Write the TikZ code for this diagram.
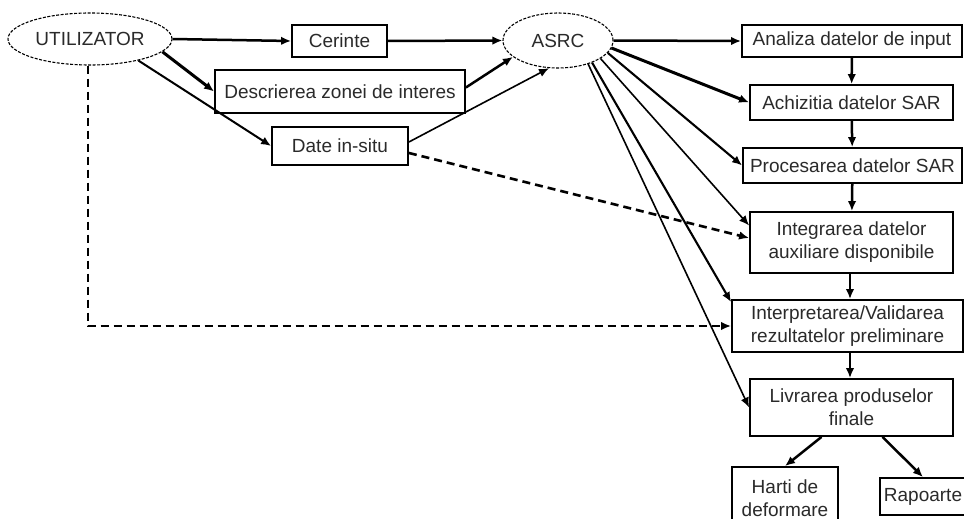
\documentclass[tikz,border=0pt]{standalone}
\usepackage{fontspec}
\setmainfont{Liberation Sans}
\usetikzlibrary{arrows.meta,shapes.geometric}
\definecolor{txt}{HTML}{2A2A2A}
\begin{document}
\begin{tikzpicture}[x=1pt,y=-1pt,
  every node/.style={font=\fontsize{19}{23}\selectfont, text=txt},
  box/.style={draw=black, line width=1.8pt, rectangle, inner sep=0pt, align=center},
  oval/.style={draw=black, ellipse, dash pattern=on 3pt off 1.5pt, line width=1.1pt, inner sep=0pt},
  arr/.style={-{Latex[length=10pt,width=8.5pt]}, line width=2.5pt},
  arrthin/.style={-{Latex[length=10pt,width=8.5pt]}, line width=1.6pt},
  dsh/.style={-{Latex[length=10pt,width=8.5pt]}, line width=2.6pt, dash pattern=on 8pt off 5pt}]
\useasboundingbox (0,0) rectangle (964,519);
\fill[white] (0,0) rectangle (964,519);

\node[oval, minimum width=164pt, minimum height=52pt] (util) at (90,39) {UTILIZATOR};
\node[oval, minimum width=110pt, minimum height=55pt] (asrc) at (558,40.5) {ASRC};

\node[box, minimum width=95pt, minimum height=32pt] (cer) at (339.5,41) {Cerinte};
\node[box, minimum width=250pt, minimum height=43pt] (desc) at (340,91.5) {Descrierea zonei de interes};
\node[box, minimum width=136pt, minimum height=38pt] (date) at (340,146) {Date in-situ};

\node[box, minimum width=220pt, minimum height=32pt] (ana) at (852,41) {Analiza datelor de input};
\node[box, minimum width=203pt, minimum height=35pt] (ach) at (851.5,102.5) {Achizitia datelor SAR};
\node[box, minimum width=219pt, minimum height=35pt] (proc) at (852.5,165.5) {Procesarea datelor SAR};
\node[box, minimum width=203pt, minimum height=61pt] (integ) at (851.5,242.5) {Integrarea datelor\\auxiliare disponibile};
\node[box, minimum width=231pt, minimum height=52pt] (interp) at (847.5,326) {Interpretarea/Validarea\\rezultatelor preliminare};
\node[box, minimum width=203pt, minimum height=57pt] (livr) at (851.5,407.5) {Livrarea produselor\\finale};
\node[box, minimum width=106pt, minimum height=63pt] (harti) at (785,498.5) {Harti de\\deformare};
\node[box, minimum width=86pt, minimum height=37pt] (rap) at (923,496.5) {Rapoarte};

% UTILIZATOR outgoing
\draw[arr] (util.east) -- (cer.west);
\draw[arr, line width=3pt] (util.-10.5) -- (desc.west);
\draw[arr, line width=2pt] (util.-24.7) -- (date.west);
\draw[dsh] ([xshift=-2pt]util.south) |- (interp.west);

% into ASRC
\draw[arr] (cer.east) -- (asrc.west);
\draw[arr] ([yshift=4pt]desc.east) -- (asrc.-160);
\draw[arrthin] ([yshift=4pt]date.east) -- (asrc.-108);
\draw[dsh] ([yshift=-7pt]date.east) -- ([yshift=4.5pt]integ.west);

% ASRC outgoing
\draw[arr] (asrc.east) -- (ana.west);
\draw[arr, line width=3pt] (asrc.-8) -- (ach.west);
\draw[arr, line width=2.1pt] (asrc.-14) -- (proc.west);
\draw[arrthin] (asrc.-23) -- ([yshift=17pt]integ.west);
\draw[arr, line width=2.1pt] (asrc.-33) -- ([yshift=-3pt]interp.north west);
\draw[arrthin] (asrc.-38.5) -- (livr.west);

% vertical chain
\draw[arr] (ana) -- (ach);
\draw[arr] (ach) -- (proc);
\draw[arr] (proc) -- (integ);
\draw[arr] ([xshift=-1.5pt]integ.south) -- ([xshift=2.5pt]interp.north);
\draw[arr] ([xshift=2.5pt]interp.south) -- ([xshift=-1.5pt]livr.north);

% outputs
\draw[arr] ([xshift=-30pt]livr.south) -- (harti.north);
\draw[arr] ([xshift=31pt]livr.south) -- (rap.north);
\end{tikzpicture}
\end{document}
